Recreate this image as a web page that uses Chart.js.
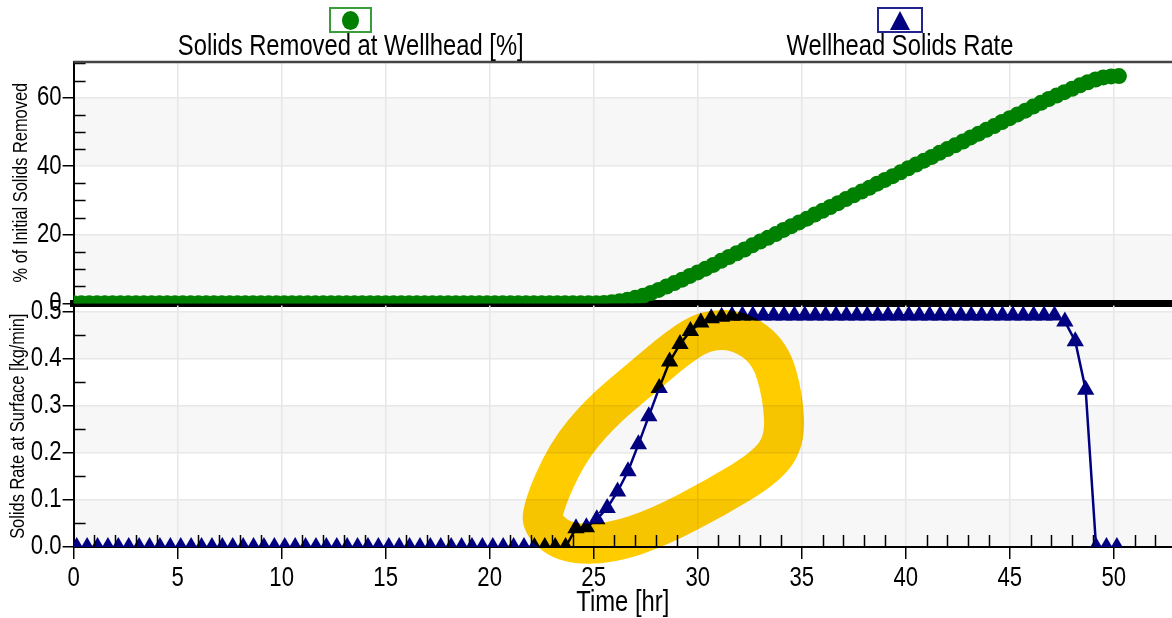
<!DOCTYPE html>
<html>
<head>
<meta charset="utf-8">
<script src="https://cdn.jsdelivr.net/npm/chart.js@4.4.1/dist/chart.umd.min.js"></script>
<style>
  html, body { margin: 0; padding: 0; background: #fff; }
  #wrap { position: relative; width: 1172px; height: 618px; overflow: hidden;
          font-family: "Liberation Sans", Arial, sans-serif; }
  #wrap canvas { position: absolute; left: 0; top: 0; }
  .lg-box { position: absolute; top: 7px; height: 26px; box-sizing: border-box; border: 2px solid;
            display: flex; align-items: center; justify-content: center; background: #fff; }
  .lg-text { position: absolute; top: 28px; width: 420px; text-align: center;
             font-size: 29px; line-height: 34px; color: #000; white-space: nowrap;
             transform: scaleX(0.82); transform-origin: 50% 50%; }
</style>
</head>
<body>
<div id="wrap">
  <canvas id="topChart" width="1172" height="618"></canvas>
  <canvas id="bottomChart" width="1172" height="618"></canvas>
  <div id="legend"></div>
</div>
<script>
const FONT = '"Liberation Sans", Arial, sans-serif';
const NARROW = 0.82; // the original uses a condensed face

// wellhead solids rate [kg/min], one marker every half hour
const blueTime = [
  0.15, 0.65, 1.15, 1.65, 2.15, 2.65, 3.15, 3.65, 4.15, 4.65,
  5.15, 5.65, 6.15, 6.65, 7.15, 7.65, 8.15, 8.65, 9.15, 9.65,
  10.15, 10.65, 11.15, 11.65, 12.15, 12.65, 13.15, 13.65, 14.15, 14.65,
  15.15, 15.65, 16.15, 16.65, 17.15, 17.65, 18.15, 18.65, 19.15, 19.65,
  20.15, 20.65, 21.15, 21.65, 22.15, 22.65, 23.15, 23.65, 24.15, 24.65,
  25.15, 25.65, 26.15, 26.65, 27.15, 27.65, 28.15, 28.65, 29.15, 29.65,
  30.15, 30.65, 31.15, 31.65, 32.15, 32.65, 33.15, 33.65, 34.15, 34.65,
  35.15, 35.65, 36.15, 36.65, 37.15, 37.65, 38.15, 38.65, 39.15, 39.65,
  40.15, 40.65, 41.15, 41.65, 42.15, 42.65, 43.15, 43.65, 44.15, 44.65,
  45.15, 45.65, 46.15, 46.65, 47.15, 47.65, 48.15, 48.65, 49.15, 49.65,
  50.15
];
const blueRate = [
  0, 0, 0, 0, 0, 0, 0, 0, 0, 0,
  0, 0, 0, 0, 0, 0, 0, 0, 0, 0,
  0, 0, 0, 0, 0, 0, 0, 0, 0, 0,
  0, 0, 0, 0, 0, 0, 0, 0, 0, 0,
  0, 0, 0, 0, 0, 0, 0, 0, 0.040, 0.042,
  0.059, 0.083, 0.118, 0.161, 0.218, 0.278, 0.338, 0.394, 0.431, 0.459,
  0.477, 0.486, 0.489, 0.491, 0.492, 0.492, 0.492, 0.492, 0.492, 0.492,
  0.492, 0.492, 0.492, 0.492, 0.492, 0.492, 0.492, 0.492, 0.492, 0.492,
  0.492, 0.492, 0.492, 0.492, 0.492, 0.492, 0.492, 0.492, 0.492, 0.492,
  0.492, 0.492, 0.492, 0.492, 0.492, 0.479, 0.437, 0.334, 0, 0,
  0
];

// solids removed at wellhead [%]
const greenTime = [
  0, 0.375, 0.75, 1.125, 1.5, 1.875, 2.25, 2.625,
  3, 3.375, 3.75, 4.125, 4.5, 4.875, 5.25, 5.625,
  6, 6.375, 6.75, 7.125, 7.5, 7.875, 8.25, 8.625,
  9, 9.375, 9.75, 10.125, 10.5, 10.875, 11.25, 11.625,
  12, 12.375, 12.75, 13.125, 13.5, 13.875, 14.25, 14.625,
  15, 15.375, 15.75, 16.125, 16.5, 16.875, 17.25, 17.625,
  18, 18.375, 18.75, 19.125, 19.5, 19.875, 20.25, 20.625,
  21, 21.375, 21.75, 22.125, 22.5, 22.875, 23.25, 23.625,
  24, 24.375, 24.75, 25.125, 25.5, 25.875, 26.25, 26.625,
  27, 27.375, 27.75, 28.125, 28.5, 28.875, 29.25, 29.625,
  30, 30.375, 30.75, 31.125, 31.5, 31.875, 32.25, 32.625,
  33, 33.375, 33.75, 34.125, 34.5, 34.875, 35.25, 35.625,
  36, 36.375, 36.75, 37.125, 37.5, 37.875, 38.25, 38.625,
  39, 39.375, 39.75, 40.125, 40.5, 40.875, 41.25, 41.625,
  42, 42.375, 42.75, 43.125, 43.5, 43.875, 44.25, 44.625,
  45, 45.375, 45.75, 46.125, 46.5, 46.875, 47.25, 47.625,
  48, 48.375, 48.75, 49.125, 49.5, 49.875, 50.25
];
const greenPct = [
  0, 0, 0, 0, 0, 0, 0, 0,
  0, 0, 0, 0, 0, 0, 0, 0,
  0, 0, 0, 0, 0, 0, 0, 0,
  0, 0, 0, 0, 0, 0, 0, 0,
  0, 0, 0, 0, 0, 0, 0, 0,
  0, 0, 0, 0, 0, 0, 0, 0,
  0, 0, 0, 0, 0, 0, 0, 0,
  0, 0, 0, 0, 0, 0, 0, 0,
  0, 0, 0, 0, 0.1, 0.3, 0.6, 1.0,
  1.6, 2.2, 3.0, 3.9, 4.9, 5.9, 6.9, 8.0,
  9.0, 10.1, 11.2, 12.4, 13.5, 14.6, 15.7, 16.9,
  18.0, 19.1, 20.2, 21.4, 22.5, 23.6, 24.7, 25.9,
  27.0, 28.1, 29.2, 30.4, 31.5, 32.6, 33.7, 34.9,
  36.0, 37.1, 38.2, 39.4, 40.5, 41.6, 42.7, 43.9,
  45.0, 46.1, 47.2, 48.4, 49.5, 50.6, 51.7, 52.9,
  54.0, 55.1, 56.2, 57.4, 58.5, 59.6, 60.6, 61.6,
  62.6, 63.6, 64.5, 65.3, 65.9, 66.2, 66.3
];

// tick labels
const timeLabels = [0, 5, 10, 15, 20, 25, 30, 35, 40, 45, 50];
const pctLabels = [0, 20, 40, 60];
const rateLabels = ['0.0', '0.1', '0.2', '0.3', '0.4', '0.5'];

// yellow highlighter loop drawn over the picture (hr, kg/min)
const markHr   = [22.5, 23.7, 25.3, 27.2, 29.1, 30.4, 32.0, 33.5, 34.1, 34.2, 33.3, 30.9, 28.2, 25.8, 23.7, 22.6];
const markRate = [0.078, 0.199, 0.284, 0.355, 0.426, 0.461, 0.461, 0.412, 0.319, 0.227, 0.170, 0.106, 0.043, 0.007, 0.007, 0.043];

const GREEN = '#008000';
const NAVY = '#000080';

function isMajor(v, step) {
  const r = v / step;
  return Math.abs(r - Math.round(r)) < 1e-6;
}

// squeeze canvas text horizontally so it looks like the condensed face
function narrowText(canvas, k) {
  const ctx = canvas.getContext('2d');
  const fill = ctx.fillText.bind(ctx);
  const measure = ctx.measureText.bind(ctx);
  ctx.fillText = function (text, x, y) {
    ctx.save();
    ctx.translate(x, y);
    ctx.scale(k, 1);
    fill(text, 0, 0);
    ctx.restore();
  };
  ctx.measureText = function (text) {
    const m = measure(text);
    return {
      width: m.width * k,
      actualBoundingBoxAscent: m.actualBoundingBoxAscent,
      actualBoundingBoxDescent: m.actualBoundingBoxDescent
    };
  };
  return canvas;
}

Chart.defaults.font.family = FONT;
Chart.defaults.color = '#000';

const bands = {
  id: 'bands',
  beforeDraw(chart, args, opts) {
    const y = chart.scales.y, a = chart.chartArea, ctx = chart.ctx;
    ctx.save();
    ctx.fillStyle = opts.color;
    let i = 0;
    for (let v = y.min; v < y.max - 1e-9; v += opts.step, i++) {
      if (i % 2 !== 0) continue;
      const top = y.getPixelForValue(Math.min(v + opts.step, y.max));
      const bot = y.getPixelForValue(v);
      ctx.fillRect(a.left, top, a.right - a.left, bot - top);
    }
    ctx.restore();
  }
};

const innerTicks = {
  id: 'innerTicks',
  afterDatasetsDraw(chart, args, opts) {
    const a = chart.chartArea, ctx = chart.ctx;
    ctx.save();
    ctx.strokeStyle = '#000';
    ctx.lineWidth = 1.5;
    ctx.beginPath();
    for (const id of Object.keys(opts.major || {})) {
      const s = chart.scales[id];
      for (const t of s.ticks) {
        if (isMajor(t.value, opts.major[id])) continue;
        const p = Math.round(s.getPixelForValue(t.value)) + 0.5;
        if (s.isHorizontal()) {
          ctx.moveTo(p, a.bottom);
          ctx.lineTo(p, a.bottom - opts.len);
        } else {
          ctx.moveTo(a.left, p);
          ctx.lineTo(a.left + opts.len, p);
        }
      }
    }
    ctx.stroke();
    if (opts.topLine) {
      ctx.strokeStyle = '#444';
      ctx.lineWidth = 2.5;
      ctx.beginPath();
      ctx.moveTo(a.left, a.top);
      ctx.lineTo(a.right, a.top);
      ctx.stroke();
    }
    ctx.restore();
  }
};

const highlighter = {
  id: 'highlighter',
  afterDraw(chart, args, opts) {
    if (!opts.hr) return;
    const x = chart.scales.x, y = chart.scales.y, ctx = chart.ctx;
    const pts = opts.hr.map((h, i) => [x.getPixelForValue(h), y.getPixelForValue(opts.rate[i])]);
    const n = pts.length;
    const mid = i => {
      const p = pts[i % n], q = pts[(i + 1) % n];
      return [(p[0] + q[0]) / 2, (p[1] + q[1]) / 2];
    };
    ctx.save();
    ctx.globalCompositeOperation = 'multiply';
    ctx.strokeStyle = 'rgb(255, 204, 0)';
    ctx.lineWidth = 40;
    ctx.lineJoin = 'round';
    ctx.lineCap = 'round';
    ctx.beginPath();
    const m0 = mid(n - 1);
    ctx.moveTo(m0[0], m0[1]);
    for (let i = 0; i < n; i++) {
      const m = mid(i);
      ctx.quadraticCurveTo(pts[i][0], pts[i][1], m[0], m[1]);
    }
    ctx.closePath();
    ctx.stroke();
    ctx.restore();
  }
};

const topChart = new Chart(narrowText(document.getElementById('topChart'), NARROW), {
  type: 'line',
  data: {
    datasets: [{
      label: 'Solids Removed at Wellhead [%]',
      data: greenTime.map((t, i) => ({ x: t, y: greenPct[i] })),
      borderColor: GREEN,
      backgroundColor: GREEN,
      borderWidth: 2,
      pointStyle: 'circle',
      pointRadius: 8,
      pointBorderWidth: 0,
      pointBackgroundColor: GREEN,
      clip: 0
    }]
  },
  options: {
    responsive: false,
    animation: false,
    events: [],
    layout: { autoPadding: false, padding: { top: 62, bottom: 314.7, left: 0, right: 0 } },
    plugins: {
      legend: { display: false },
      tooltip: { enabled: false },
      bands: { color: '#f7f7f7', step: 20 },
      innerTicks: { major: { y: 20 }, len: 12, topLine: true }
    },
    scales: {
      x: {
        type: 'linear', min: 0, max: 52.8,
        ticks: { display: false, stepSize: 5, maxTicksLimit: 100, includeBounds: false, autoSkip: false },
        grid: { color: '#e6e6e6', lineWidth: 1.5, drawTicks: false },
        border: { color: '#000', width: 7 },
        afterFit(s) { s.height = 0; }
      },
      y: {
        type: 'linear', min: 0, max: 70.4,
        ticks: {
          stepSize: 5, maxTicksLimit: 100, includeBounds: false, autoSkip: false, padding: 1,
          font: { size: 27 },
          callback: v => pctLabels.includes(v) ? String(v) : ''
        },
        grid: {
          color: c => (c.tick && isMajor(c.tick.value, 20)) ? '#e8e8e8' : 'rgba(0,0,0,0)',
          lineWidth: 1.5, tickLength: 11, tickWidth: 1.5,
          tickColor: c => (c.tick && isMajor(c.tick.value, 20)) ? '#000' : 'rgba(0,0,0,0)'
        },
        border: { color: '#000', width: 2 },
        title: { display: true, text: '% of Initial Solids Removed', font: { size: 20 }, padding: { top: 9, bottom: 0 } },
        afterFit(s) { s.width = 73.6; }
      }
    }
  },
  plugins: [bands, innerTicks]
});

const bottomChart = new Chart(narrowText(document.getElementById('bottomChart'), NARROW), {
  type: 'line',
  data: {
    datasets: [{
      label: 'Wellhead Solids Rate',
      data: blueTime.map((t, i) => ({ x: t, y: blueRate[i] })),
      borderColor: NAVY,
      backgroundColor: NAVY,
      borderWidth: 2.5,
      pointStyle: 'triangle',
      pointRadius: 10,
      pointBorderWidth: 0,
      pointBackgroundColor: NAVY,
      clip: 0
    }]
  },
  options: {
    responsive: false,
    animation: false,
    events: [],
    layout: { autoPadding: false, padding: { top: 305.5, bottom: 0, left: 0, right: 0 } },
    plugins: {
      legend: { display: false },
      tooltip: { enabled: false },
      bands: { color: '#f7f7f7', step: 0.1 },
      innerTicks: { major: { x: 5, y: 0.1 }, len: 12 },
      highlighter: { hr: markHr, rate: markRate }
    },
    scales: {
      x: {
        type: 'linear', min: 0, max: 52.8,
        ticks: {
          stepSize: 1, maxTicksLimit: 100, includeBounds: false, autoSkip: false, maxRotation: 0,
          padding: 3, font: { size: 27 },
          callback: v => timeLabels.includes(v) ? String(v) : ''
        },
        grid: {
          color: c => (c.tick && isMajor(c.tick.value, 5)) ? '#e6e6e6' : 'rgba(0,0,0,0)',
          lineWidth: 1.5, tickLength: 12, tickWidth: 1.5,
          tickColor: c => (c.tick && isMajor(c.tick.value, 5)) ? '#000' : 'rgba(0,0,0,0)'
        },
        border: { color: '#000', width: 2 },
        title: { display: true, text: 'Time [hr]', font: { size: 29 }, padding: { top: 0, bottom: -2 } },
        afterFit(s) { s.height = 71; }
      },
      y: {
        type: 'linear', min: 0, max: 0.513,
        ticks: {
          stepSize: 0.05, maxTicksLimit: 100, includeBounds: false, autoSkip: false, padding: 1,
          font: { size: 27 },
          callback: v => rateLabels.find(l => Math.abs(parseFloat(l) - v) < 1e-6) || ''
        },
        grid: {
          color: c => (c.tick && isMajor(c.tick.value, 0.1)) ? '#e8e8e8' : 'rgba(0,0,0,0)',
          lineWidth: 1.5, tickLength: 11, tickWidth: 1.5,
          tickColor: c => (c.tick && isMajor(c.tick.value, 0.1)) ? '#000' : 'rgba(0,0,0,0)'
        },
        border: { color: '#000', width: 2 },
        title: { display: true, text: 'Solids Rate at Surface [kg/min]', font: { size: 20 }, padding: { top: 6, bottom: 0 } },
        afterFit(s) { s.width = 73.6; }
      }
    }
  },
  plugins: [bands, innerTicks, highlighter]
});

// legend: framed marker box with the series name underneath
const legendItems = [
  { ds: topChart.data.datasets[0], cx: 350, w: 43, marker: 'circle' },
  { ds: bottomChart.data.datasets[0], cx: 900, w: 46, marker: 'triangle' }
];
const legendEl = document.getElementById('legend');
legendItems.forEach(item => {
  const box = document.createElement('div');
  box.className = 'lg-box';
  box.style.left = (item.cx - item.w / 2) + 'px';
  box.style.width = item.w + 'px';
  box.style.borderColor = item.marker === 'circle' ? '#3c9c3c' : '#23238f';
  const m = document.createElement('div');
  if (item.marker === 'circle') {
    m.style.cssText = 'width:17px;height:19px;border-radius:50%;background:' + item.ds.backgroundColor;
  } else {
    m.style.cssText = 'width:0;height:0;border-left:10px solid transparent;border-right:10px solid transparent;border-bottom:19px solid ' + item.ds.backgroundColor;
  }
  box.appendChild(m);
  legendEl.appendChild(box);
  const txt = document.createElement('div');
  txt.className = 'lg-text';
  txt.style.left = (item.cx - 210) + 'px';
  txt.textContent = item.ds.label;
  legendEl.appendChild(txt);
});
</script>
</body>
</html>
